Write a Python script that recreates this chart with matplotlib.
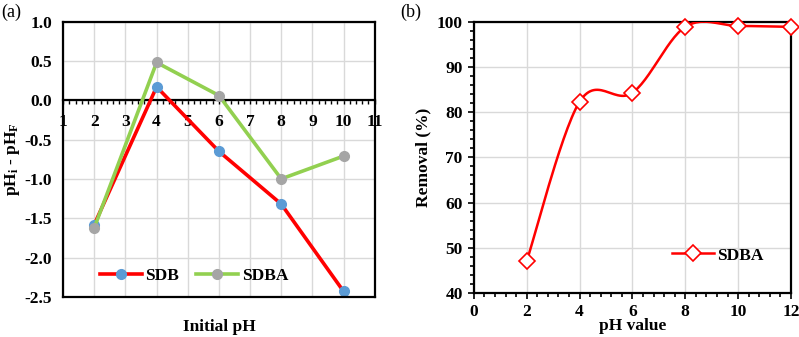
import numpy as np
import matplotlib
matplotlib.use("Agg")
from matplotlib import pyplot as plt
from matplotlib.ticker import MultipleLocator, FormatStrFormatter

plt.rcParams['font.family'] = ['Liberation Serif', 'DejaVu Serif']
plt.rcParams['font.weight'] = 'bold'
plt.rcParams['axes.labelweight'] = 'bold'
plt.rcParams['axes.unicode_minus'] = False
plt.rcParams['mathtext.fontset'] = 'custom'
plt.rcParams['mathtext.rm'] = 'Liberation Serif:bold'
plt.rcParams['mathtext.bf'] = 'Liberation Serif:bold'
plt.rcParams['mathtext.it'] = 'Liberation Serif:bold'

# ---- data (a)
ph_a = [2, 4, 6, 8, 10]
sdb = [-1.58, 0.17, -0.65, -1.32, -2.43]
sdba = [-1.62, 0.48, 0.06, -1.00, -0.71]

# ---- data (b)
ph_b = [2, 4, 6, 8, 10, 12]
removal = [47.0, 82.3, 84.3, 98.9, 99.1, 98.9]

GRID = '#d9d9d9'
FS = 12.5
LFS = 12.5


def smooth_curve(x, y, n=30):
    """Excel-like smoothed line (Catmull-Rom as cubic Bezier)."""
    p = np.column_stack([x, y]).astype(float)
    p = np.vstack([p[0], p, p[-1]])
    t = np.linspace(0, 1, n)[:, None]
    out = []
    for i in range(1, len(p) - 2):
        p0, p3 = p[i], p[i + 1]
        c1 = p0 + (p[i + 1] - p[i - 1]) / 6
        c2 = p3 - (p[i + 2] - p[i]) / 6
        seg = ((1 - t) ** 3 * p0 + 3 * (1 - t) ** 2 * t * c1
               + 3 * (1 - t) * t ** 2 * c2 + t ** 3 * p3)
        out.append(seg)
    out = np.vstack(out)
    return out[:, 0], out[:, 1]


fig = plt.figure(figsize=(7.99, 3.37), dpi=100)

# ---------------- panel (a)
ax = fig.add_axes([0.079, 0.119, 0.390, 0.817])
ax.set_xlim(1, 11)
ax.set_ylim(-2.5, 1.0)
ax.xaxis.set_major_locator(MultipleLocator(1))
ax.xaxis.set_minor_locator(MultipleLocator(0.2))
ax.yaxis.set_major_locator(MultipleLocator(0.5))
ax.yaxis.set_major_formatter(FormatStrFormatter('%.1f'))
ax.grid(True, color=GRID, lw=1)
ax.set_axisbelow(True)
for s in ax.spines.values():
    s.set_linewidth(1.6)
ax.spines['bottom'].set_position(('data', 0))
ax.plot([0, 1], [0, 0], transform=ax.transAxes, color='k', lw=1.6,
        clip_on=False, zorder=5)
ax.tick_params(axis='x', which='both', direction='out', length=3, width=1,
               pad=7, labelsize=FS)
ax.tick_params(axis='y', which='both', length=0, pad=8, labelsize=FS)

ax.plot(ph_a, sdb, color='#ff0000', lw=2.6, marker='o', ms=7,
        mfc='#5b9bd5', mec='#5b9bd5', label='SDB', zorder=3)
ax.plot(ph_a, sdba, color='#92d050', lw=2.6, marker='o', ms=7,
        mfc='#a5a5a5', mec='#a5a5a5', label='SDBA', zorder=3)
ax.legend(loc='center', bbox_to_anchor=(0.42, 0.075), ncol=2, frameon=False,
          fontsize=FS, handlelength=2.4, columnspacing=1.0, handletextpad=0.2)
ax.set_ylabel('pH$_\\mathregular{i}$ - pH$_\\mathregular{F}$', fontsize=LFS,
              labelpad=2)
ax.text(0.5, -0.109, 'Initial pH', transform=ax.transAxes, ha='center',
        va='center', fontsize=LFS)
fig.text(0.002, 0.963, '(a)', fontsize=13, fontweight='normal', va='center')

# ---------------- panel (b)
bx = fig.add_axes([0.593, 0.131, 0.397, 0.804])
bx.set_xlim(0, 12)
bx.set_ylim(40, 100)
bx.xaxis.set_major_locator(MultipleLocator(2))
bx.xaxis.set_minor_locator(MultipleLocator(0.4))
bx.yaxis.set_major_locator(MultipleLocator(10))
bx.yaxis.set_minor_locator(MultipleLocator(2))
bx.grid(True, which='major', color=GRID, lw=1)
bx.set_axisbelow(True)
for s in bx.spines.values():
    s.set_linewidth(1.6)
bx.tick_params(which='major', direction='out', length=4, width=1.2,
               labelsize=FS, pad=4)
bx.tick_params(which='minor', direction='out', length=3, width=1.2)

sx, sy = smooth_curve(ph_b, removal)
bx.plot(sx, sy, color='#ff0000', lw=1.8, zorder=3)
bx.plot(ph_b, removal, ls='none', marker='D', ms=8, mfc='white',
        mec='#ff0000', mew=1.2, zorder=4, clip_on=False)
bx.plot([], [], color='#ff0000', lw=1.8, marker='D', ms=8, mfc='white',
        mec='#ff0000', mew=1.2, label='SDBA')
bx.legend(loc='center', bbox_to_anchor=(0.77, 0.138), frameon=False,
          fontsize=FS, handlelength=2.4, handletextpad=0.2)
bx.set_ylabel('Removal (%)', fontsize=LFS, labelpad=4)
bx.text(0.5, -0.124, 'pH value', transform=bx.transAxes, ha='center',
        va='center', fontsize=LFS)
fig.text(0.501, 0.963, '(b)', fontsize=13, fontweight='normal', va='center')

fig.savefig('out.png', dpi=100)
